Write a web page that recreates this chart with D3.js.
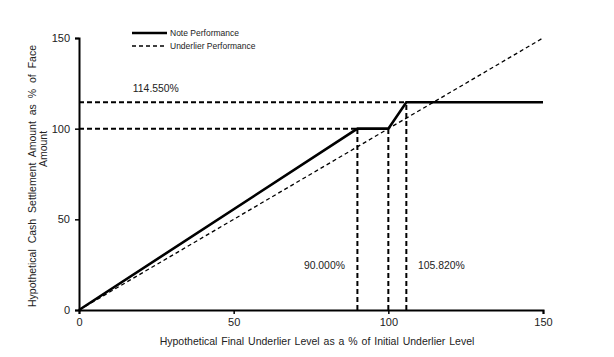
<!DOCTYPE html>
<html><head><meta charset="utf-8">
<script src="https://cdn.jsdelivr.net/npm/d3@7"></script>
<style>body{margin:0;background:#fff}svg{display:block}text{font-family:"Liberation Sans",Arial,sans-serif;fill:#222}</style>
</head><body><svg id="c" width="614" height="357"></svg>
<script>
const notePoints = [[0,0],[90,100],[100,100],[105.82,114.55],[150,114.55]];
const underlierPoints = [[0,0],[150,150]];
const xTicks = [0,50,100,150];
const yTicks = [0,50,100,150];
const refH = [{y:114.55,x0:0,x1:105.82},{y:100,x0:0,x1:90}];
const refV = [{x:90,y0:0,y1:100},{x:100,y0:0,y1:100},{x:105.82,y0:0,y1:114.55}];
const labels = [{text:"114.550%",x:17.4,y:120.2},{text:"90.000%",x:72.7,y:22.6},{text:"105.820%",x:109.6,y:22.6}];
const legend = ["Note Performance","Underlier Performance"];

const svg = d3.select("#c");
const x = d3.scaleLinear().domain([0,150]).range([79,543]);
const y = d3.scaleLinear().domain([0,150]).range([310,38]);

// reference dashed lines
svg.selectAll(".rh").data(refH).enter().append("line")
  .attr("x1",d=>x(d.x0)).attr("x2",d=>x(d.x1)).attr("y1",d=>y(d.y)).attr("y2",d=>y(d.y))
  .attr("stroke","#000").attr("stroke-width",2).attr("stroke-dasharray","5,3");
svg.selectAll(".rv").data(refV).enter().append("line")
  .attr("x1",d=>x(d.x)).attr("x2",d=>x(d.x)).attr("y1",d=>y(d.y0)).attr("y2",d=>y(d.y1))
  .attr("stroke","#000").attr("stroke-width",2).attr("stroke-dasharray","5,3");

const line = d3.line().x(d=>x(d[0])).y(d=>y(d[1]));
svg.append("path").datum(underlierPoints).attr("d",line).attr("fill","none")
  .attr("stroke","#000").attr("stroke-width",1.3).attr("stroke-dasharray","4,3");
svg.append("path").datum(notePoints).attr("d",line).attr("fill","none")
  .attr("stroke","#000").attr("stroke-width",2.6);

// axes
const xa = svg.append("g").attr("transform","translate(0,310)")
  .call(d3.axisBottom(x).tickValues(xTicks).tickSize(4).tickPadding(4));
const ya = svg.append("g").attr("transform","translate(79,0)")
  .call(d3.axisLeft(y).tickValues(yTicks).tickSize(4).tickPadding(5));
[xa,ya].forEach(g=>{
  g.select(".domain").attr("stroke","#000").attr("stroke-width",2);
  g.selectAll(".tick line").attr("stroke","#000").attr("stroke-width",1.5);
  g.selectAll(".tick text").attr("font-size",11).attr("fill","#222").attr("font-family","Liberation Sans, Arial, sans-serif");
});

// labels
svg.selectAll(".lbl").data(labels).enter().append("text")
  .attr("x",d=>x(d.x)).attr("y",d=>y(d.y)).attr("font-size",10.4).text(d=>d.text);

// axis titles
svg.append("text").attr("x",317).attr("y",345).attr("text-anchor","middle").attr("font-size",10.5)
  .attr("word-spacing","1px")
  .text("Hypothetical Final Underlier Level as a % of Initial Underlier Level");
svg.append("text").attr("transform","translate(36,176) rotate(-90)").attr("text-anchor","middle")
  .attr("font-size",10.5).attr("word-spacing","3px")
  .text("Hypothetical Cash Settlement Amount as % of Face");
svg.append("text").attr("transform","translate(47,149) rotate(-90)").attr("text-anchor","middle")
  .attr("font-size",10.5).text("Amount");

// legend
const lg = svg.append("g");
lg.append("line").attr("x1",132).attr("x2",167).attr("y1",33).attr("y2",33).attr("stroke","#000").attr("stroke-width",2.6);
lg.append("line").attr("x1",132).attr("x2",167).attr("y1",46).attr("y2",46).attr("stroke","#000").attr("stroke-width",1.3).attr("stroke-dasharray","4,3");
lg.selectAll(".lt").data(legend).enter().append("text").attr("x",170).attr("y",(d,i)=>36+i*13)
  .attr("font-size",8.5).text(d=>d);
</script></body></html>
